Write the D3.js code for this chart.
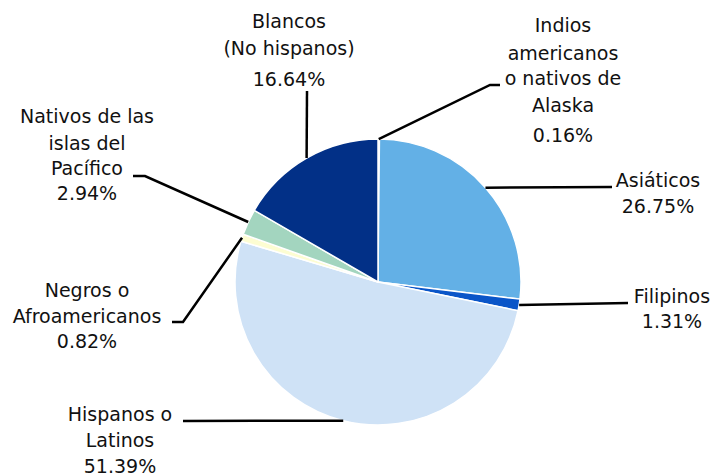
<!DOCTYPE html>
<html><head><meta charset="utf-8">
<script src="https://cdn.jsdelivr.net/npm/d3@7"></script>
<style>
html,body{margin:0;padding:0;background:#fff;}
svg text{font-family:"DejaVu Sans",Verdana,sans-serif;font-size:19px;fill:#111;}
</style></head>
<body><svg id="c" width="720" height="473"></svg>
<script>
const categories = ["Indios americanos o nativos de Alaska","Asiáticos","Filipinos","Hispanos o Latinos","Negros o Afroamericanos","Nativos de las islas del Pacífico","Blancos (No hispanos)"];
const values = [0.16, 26.75, 1.31, 51.39, 0.82, 2.94, 16.64];
const labelLines = [
  ["Indios","americanos","o nativos de","Alaska"],
  ["Asiáticos"],
  ["Filipinos"],
  ["Hispanos o","Latinos"],
  ["Negros o","Afroamericanos"],
  ["Nativos de las","islas del","Pacífico"],
  ["Blancos","(No hispanos)"]
];
const colors = ["#f2f2f2","#63b0e6","#0a55c8","#cfe2f6","#fdfdd2","#a3d5bf","#023087"];

// layout (positions kept separate from data)
const cx = 378, cy = 282, R = 143;
const layout = [
  {x:563, y:32, dy:[0,28,53,80,110], elbow:[[490,85],[500,85]]},
  {x:658, y:187, dy:[0,26], elbow:[[612,187]]},
  {x:672, y:303, dy:[0,25], elbow:[[628,303]]},
  {x:120, y:421, dy:[0,26,52], elbow:[[183,421]]},
  {x:87, y:297, dy:[0,26,51], elbow:[[183,322],[172,322]]},
  {x:87, y:123, dy:[0,27,52,77], elbow:[[145,176],[133,176]]},
  {x:289, y:28, dy:[0,27,58], elbow:[[307,91]]}
];

const svg = d3.select("#c");
const g = svg.append("g").attr("transform",`translate(${cx},${cy})`);
const pie = d3.pie().sort(null).value(d=>d).startAngle(0).endAngle(2*Math.PI);
const arcs = pie(values);
const arc = d3.arc().innerRadius(0).outerRadius(R);

g.selectAll("path").data(arcs).join("path")
  .attr("d",arc)
  .attr("fill",(d,i)=>colors[i])
  .attr("stroke","#fff").attr("stroke-width",1.5);

// leader lines
arcs.forEach((a,i)=>{
  const m = (a.startAngle+a.endAngle)/2;
  const p0 = [cx+R*Math.sin(m), cy-R*Math.cos(m)];
  const pts = [p0].concat(layout[i].elbow);
  svg.append("path")
    .attr("d", d3.line()(pts))
    .attr("fill","none").attr("stroke","#000").attr("stroke-width",2.5);
});

// labels
arcs.forEach((a,i)=>{
  const L = layout[i];
  const lines = labelLines[i].concat([d3.format(".2f")(values[i])+"%"]);
  const t = svg.append("text").attr("text-anchor","middle");
  lines.forEach((s,k)=>{
    t.append("tspan").attr("x",L.x).attr("y",L.y+L.dy[k]).text(s);
  });
});
</script></body></html>
